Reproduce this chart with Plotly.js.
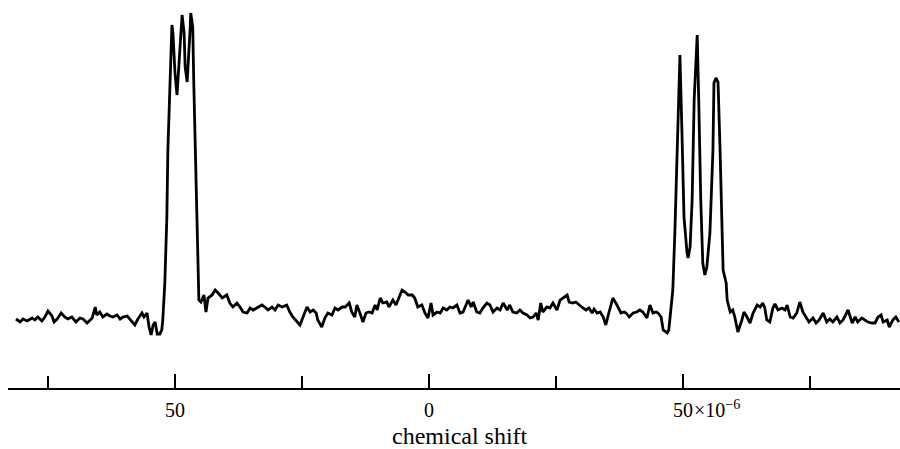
<!DOCTYPE html>
<html>
<head>
<meta charset="utf-8">
<script src="https://cdn.plot.ly/plotly-3.0.1.min.js"></script>
<style>html,body{margin:0;padding:0;background:#fff;}#chart{width:900px;height:449px;}</style>
</head>
<body>
<div id="chart"></div>
<script>
// chemical shift (ppm, in units of 1e-6) and signal intensity (arbitrary units)
const shift = [
-81.3,-80.5,-79.9,-79.1,-78.1,-77.6,-77.0,-76.2,-75.6,-75.0,-74.2,-73.8,-73.2,-72.4,-71.7,-71.1,-70.3,-69.5,-68.7,-68.1,
-67.3,-66.3,-65.7,-65.4,-64.8,-64.2,-63.4,-62.8,-62.2,-61.4,-60.8,-60.2,-59.4,-58.9,-57.9,-57.3,-56.5,-56.1,-55.5,-55.1,
-54.7,-54.3,-53.9,-53.5,-53.0,-52.6,-52.4,-52.0,-51.6,-51.4,-51.0,-50.6,-50.4,-50.0,-49.6,-49.4,-49.0,-48.6,-48.2,-48.0,
-47.6,-47.4,-47.0,-46.9,-46.5,-46.3,-45.9,-45.5,-45.3,-44.9,-44.3,-43.9,-43.5,-42.7,-42.1,-41.5,-40.7,-39.8,-39.2,-38.6,
-37.8,-37.2,-36.6,-35.8,-35.2,-34.6,-33.9,-32.9,-32.3,-31.7,-30.9,-30.3,-29.7,-28.9,-28.0,-27.4,-26.8,-25.8,-25.4,-24.4,
-24.0,-23.4,-22.8,-22.2,-21.9,-21.1,-20.5,-19.9,-19.1,-18.5,-17.9,-17.1,-16.5,-15.7,-15.2,-14.6,-14.2,-13.6,-13.0,-12.4,
-11.8,-11.2,-10.6,-10.2,-9.6,-9.1,-8.3,-7.9,-7.1,-6.5,-5.9,-5.3,-4.7,-4.1,-3.3,-2.8,-2.2,-1.4,-0.8,-0.2,
0.4,0.8,1.6,2.2,2.8,3.5,4.1,4.7,5.5,6.1,6.7,7.5,7.7,8.3,8.7,9.4,10.0,10.6,11.4,12.0,
12.6,13.4,14.0,14.6,15.4,15.9,16.5,17.3,17.9,18.5,19.3,19.9,20.5,21.1,21.5,22.0,22.4,23.2,23.8,24.4,
25.2,25.8,26.4,27.2,27.6,28.3,28.9,29.5,30.3,30.9,31.5,32.1,32.5,33.1,33.7,34.3,34.8,35.4,36.2,37.0,
37.8,38.4,38.8,39.4,40.2,40.9,41.5,42.1,42.9,43.5,44.1,44.7,45.1,45.7,46.1,46.9,47.2,47.8,48.0,48.4,
48.8,49.4,49.8,50.2,50.8,51.0,51.4,51.8,52.2,52.8,53.1,53.5,53.9,54.3,54.7,55.3,55.9,56.1,56.5,56.9,
57.3,57.7,57.9,58.5,58.7,59.3,59.8,60.2,60.8,61.6,62.0,62.6,63.2,63.8,64.6,65.2,65.7,66.1,66.5,67.1,
67.7,68.1,68.7,69.5,70.1,70.5,71.1,71.7,72.4,73.0,73.6,74.2,74.8,75.6,76.2,76.8,77.6,78.3,78.9,79.5,
80.3,80.9,81.5,82.5,83.3,83.9,84.4,85.2,85.8,86.4,87.2,87.8,88.4,89.0,89.4,90.2,90.6,91.3,91.9,92.5
];
const intensity = [
11,8,11,9,12,10,13,9,13,19,14,8,11,17,13,11,13,8,12,11,
7,12,23,15,18,13,16,14,13,15,11,13,14,11,5,11,17,13,17,3,
-5,5,8,-4,-4,0,10,47,113,180,247,305,297,257,235,253,290,315,297,263,
248,263,303,317,303,247,163,80,30,28,35,18,32,35,40,37,32,35,27,23,
27,23,18,17,22,20,22,25,23,20,23,20,25,23,25,18,13,7,5,18,
23,18,20,17,10,3,12,17,15,22,20,23,23,27,18,13,25,17,8,17,
18,17,25,20,32,27,28,23,30,25,32,40,38,35,35,32,23,25,17,12,
27,15,18,17,22,20,23,22,25,17,18,27,30,23,28,18,17,22,27,25,
18,22,20,27,20,25,18,17,20,17,15,12,13,17,10,27,18,23,22,27,
20,30,32,35,28,27,28,25,22,20,22,17,21,17,18,13,5,17,32,25,
17,18,17,13,17,18,20,18,12,25,17,18,17,13,0,-3,0,30,40,97,
180,275,197,113,77,72,83,130,230,295,230,130,67,55,63,97,180,247,252,248,
180,97,60,47,30,18,20,13,-2,10,18,13,7,17,25,23,27,22,10,8,
22,26,20,22,20,25,13,12,17,28,18,13,8,12,7,10,17,8,11,8,
13,7,10,20,7,13,8,12,10,8,7,7,13,15,8,10,3,10,13,8
];
const labelledTicks = [-50, 0, 50];
const tickLabels = ["50", "0", "50"];
const minorTickStart = -75;
const minorTickStep = 25;
const unitLabel = "×10<sup>−6</sup>";
const axisTitle = "chemical shift";

const serif = "Liberation Serif, Times New Roman, serif";

Plotly.newPlot("chart", [{
  type: "scatter", mode: "lines",
  x: shift, y: intensity,
  line: {color: "#000", width: 2.8},
  hoverinfo: "skip"
}], {
  width: 900, height: 449,
  margin: {l: 8, r: 0, t: 0, b: 61},
  paper_bgcolor: "#fff", plot_bgcolor: "#fff",
  showlegend: false,
  xaxis: {
    range: [-82.87, 92.72],
    tickmode: "array", tickvals: labelledTicks, ticktext: tickLabels,
    ticks: "inside", ticklen: 14, tickwidth: 1.3, tickcolor: "#000",
    minor: {tick0: minorTickStart, dtick: minorTickStep, ticks: "inside", ticklen: 12,
            tickwidth: 1.3, tickcolor: "#000", showgrid: false},
    showline: true, linecolor: "#000", linewidth: 2,
    showgrid: false, zeroline: false,
    tickfont: {family: serif, size: 20, color: "#000"},
    ticklabelstandoff: 3
  },
  yaxis: {
    range: [-58, 330],
    visible: false, showgrid: false, zeroline: false
  },
  annotations: [
    {text: unitLabel, xref: "x", yref: "paper", x: 50, y: -0.054, xanchor: "left", yanchor: "middle",
     xshift: 9, showarrow: false, font: {family: serif, size: 20, color: "#000"}},
    {text: axisTitle, xref: "paper", yref: "paper", x: 0.507, y: -0.124, xanchor: "center", yanchor: "middle",
     showarrow: false, font: {family: serif, size: 24, color: "#000"}}
  ]
}, {staticPlot: true});
</script>
</body>
</html>
